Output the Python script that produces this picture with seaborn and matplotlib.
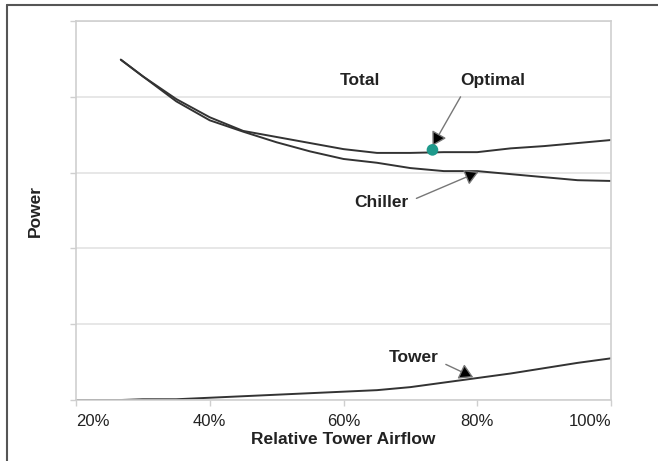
import numpy as np
import pandas as pd
import seaborn as sns
from matplotlib import pyplot as plt
from matplotlib.lines import Line2D

# relative tower airflow (%) and power (arbitrary units)
airflow = [26.7, 30, 35, 40, 45, 50, 55, 60, 65, 70, 75, 80, 85, 90, 95, 100]
total = [4.49, 4.27, 3.97, 3.73, 3.55, 3.47, 3.39, 3.31, 3.26, 3.26, 3.27, 3.27, 3.32, 3.35, 3.39, 3.43]
chiller = [4.49, 4.27, 3.94, 3.69, 3.54, 3.40, 3.28, 3.18, 3.13, 3.06, 3.02, 3.02, 2.98, 2.94, 2.90, 2.89]

tower_airflow = [20, 26.7, 30, 35, 40, 45, 50, 55, 60, 65, 70, 75, 80, 85, 90, 95, 100]
tower = [0.0, 0.0, 0.01, 0.01, 0.03, 0.05, 0.07, 0.09, 0.11, 0.13, 0.17, 0.23, 0.29, 0.35, 0.42, 0.49, 0.55]

optimal_airflow = 73.3
optimal_power = 3.30

x_ticks = [20, 40, 60, 80, 100]
x_ticklabels = ["20%", "40%", "60%", "80%", "100%"]

sns.set_theme(style="white")
plt.rcParams['font.family'] = ['Liberation Sans', 'DejaVu Sans']

fig = plt.figure(figsize=(6.58, 4.61), dpi=100)
ax = fig.add_axes([0.1155, 0.1323, 0.8131, 0.8221])

line_color = "#333333"
sns.lineplot(x=airflow, y=total, ax=ax, color=line_color, linewidth=1.4)
sns.lineplot(x=airflow, y=chiller, ax=ax, color=line_color, linewidth=1.4)
sns.lineplot(x=tower_airflow, y=tower, ax=ax, color=line_color, linewidth=1.4)
sns.scatterplot(x=[optimal_airflow], y=[optimal_power], ax=ax, color="#1f9a8c",
                s=70, edgecolor="none", zorder=5)

ax.set_xlim(20, 100)
ax.set_ylim(0, 5)
ax.set_yticks([0, 1, 2, 3, 4, 5])
ax.set_yticklabels([])
ax.set_xticks(x_ticks)
ax.set_xticklabels(x_ticklabels, fontsize=12, color="#222222")
labels = ax.get_xticklabels()
labels[0].set_horizontalalignment("left")
labels[-1].set_horizontalalignment("right")

ax.grid(axis="y", color="#e3e3e3", linewidth=1.2)
ax.set_axisbelow(True)
for side in ["left", "right", "top", "bottom"]:
    ax.spines[side].set_visible(True)
    ax.spines[side].set_color("#cfcfcf")
    ax.spines[side].set_linewidth(1.2)
ax.tick_params(axis="both", which="both", length=4, width=1, color="#cfcfcf",
               direction="out", bottom=True, left=True, pad=6)

ax.set_xlabel("Relative Tower Airflow", fontsize=12.5, fontweight="bold", color="#222222", labelpad=2)
ax.set_ylabel("Power", fontsize=12.5, fontweight="bold", color="#222222", labelpad=14)

arrow = dict(arrowstyle="-|>,head_length=0.6,head_width=0.35", ec="#777777", fc="black",
             lw=1, mutation_scale=14, shrinkA=0, shrinkB=0)
text_kw = dict(fontsize=12.5, fontweight="bold", color="#222222", ha="center", va="center")

ax.text(62.4, 4.22, "Total", **text_kw)
ax.text(82.3, 4.22, "Optimal", **text_kw)
ax.annotate("", xy=(optimal_airflow, optimal_power + 0.05), xytext=(77.5, 4.0), arrowprops=arrow)
ax.text(65.6, 2.60, "Chiller", **text_kw)
ax.annotate("", xy=(80.2, 3.01), xytext=(70.9, 2.66), arrowprops=arrow)
ax.text(70.5, 0.56, "Tower", **text_kw)
ax.annotate("", xy=(79.4, 0.30), xytext=(75.3, 0.47), arrowprops=arrow)

# frame lines along the left and top of the figure
fig.add_artist(Line2D([7 / 658, 7 / 658], [0, 1 - 5 / 461], transform=fig.transFigure,
                      color="#555555", linewidth=1.5))
fig.add_artist(Line2D([7 / 658, 1], [1 - 5 / 461, 1 - 5 / 461], transform=fig.transFigure,
                      color="#555555", linewidth=1.5))

fig.savefig("out.png", dpi=100)
